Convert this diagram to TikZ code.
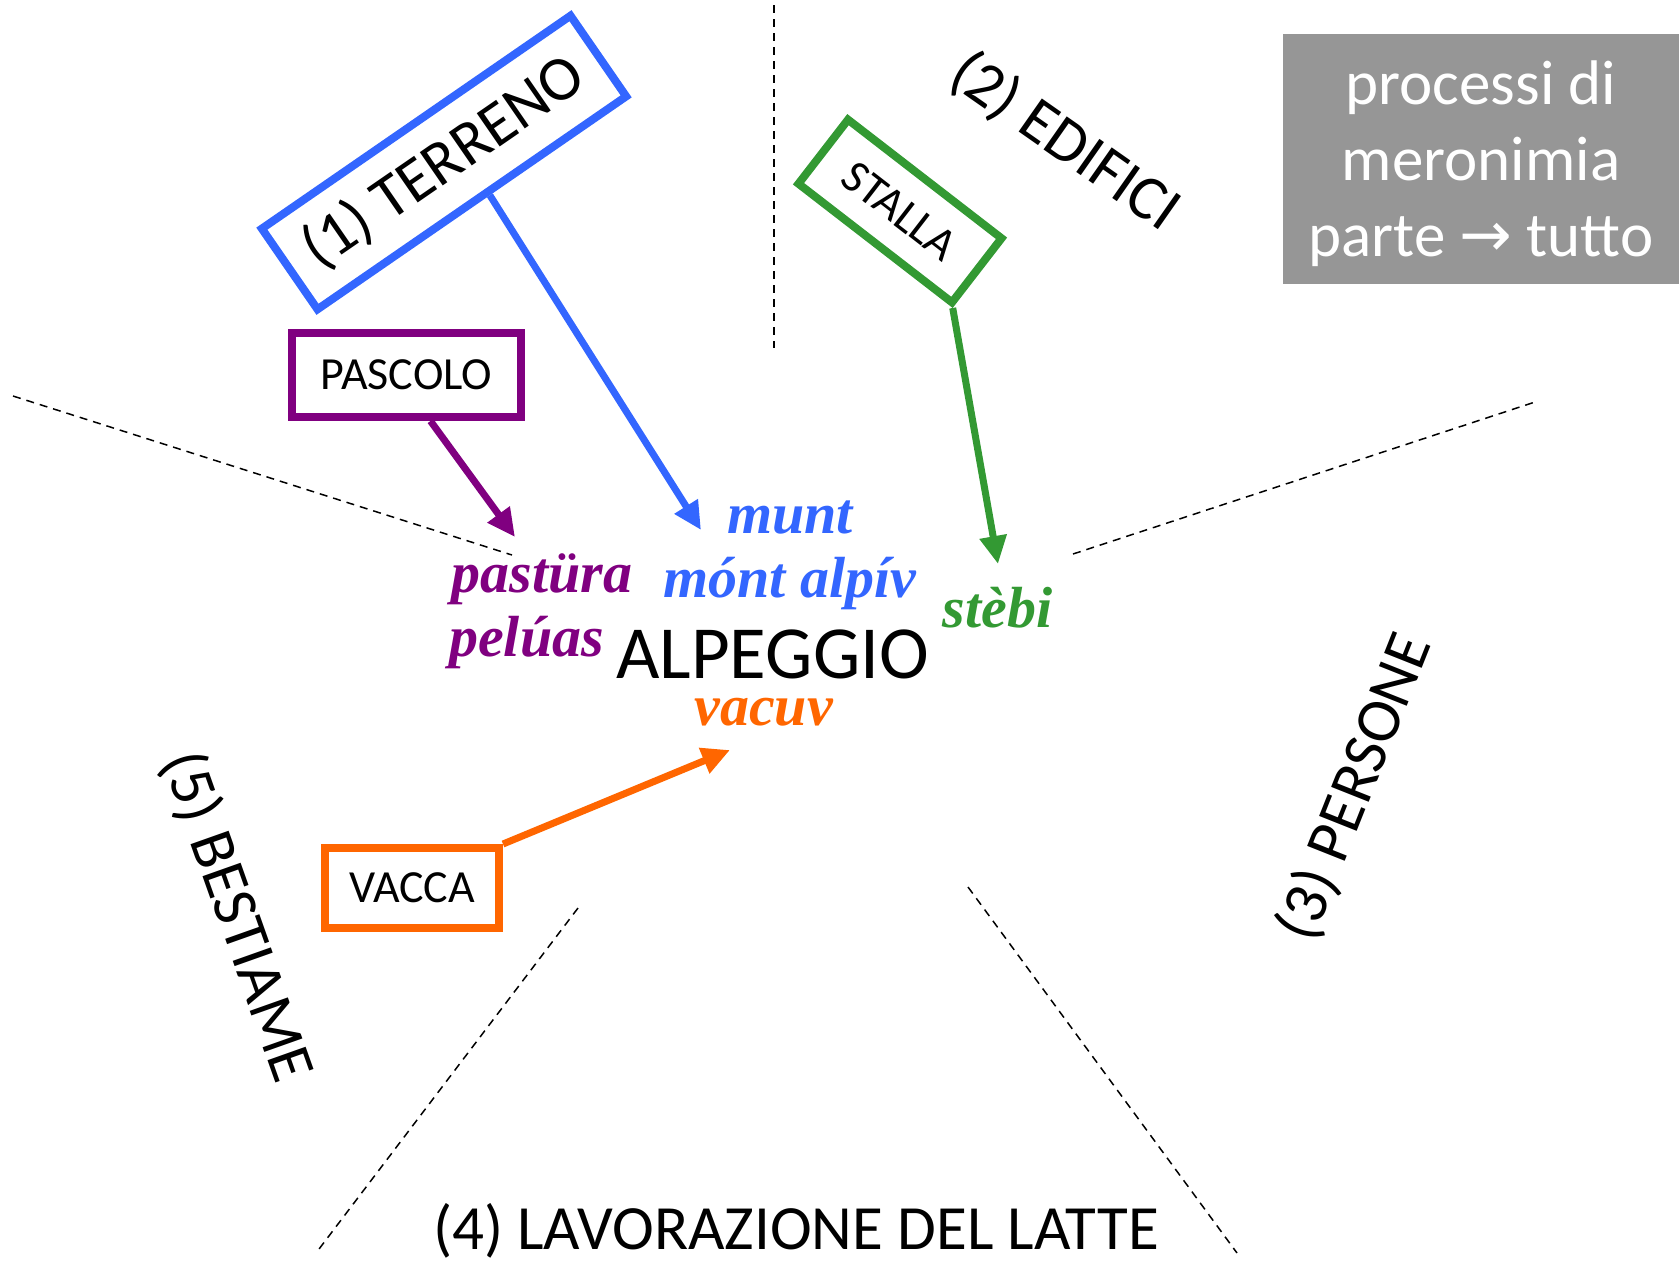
\documentclass[tikz,border=0pt]{standalone}
\usepackage{fontspec}
\setmainfont{Carlito}
\newfontfamily\wordfont{Liberation Serif}
\newfontfamily\symfont{DejaVu Sans}
\usetikzlibrary{arrows.meta,calc}
\definecolor{blueC}{RGB}{51,102,255}
\definecolor{purpleC}{RGB}{128,0,128}
\definecolor{greenC}{RGB}{51,153,51}
\definecolor{orangeC}{RGB}{255,102,0}
\definecolor{grayC}{RGB}{150,150,150}
\begin{document}
\begin{tikzpicture}[x=0.5pt,y=-0.5pt,
  sect/.style={font=\fontsize{31.5}{36}\selectfont, inner sep=0pt},
  tagbox/.style={draw, line width=4pt, inner sep=0pt, font=\fontsize{23}{26}\selectfont},
  word/.style={font={\wordfont\bfseries\itshape\fontsize{29}{32}\selectfont}, inner sep=0pt, anchor=base},
  conn/.style={line width=3.5pt, -{Triangle[length=14pt,width=13pt]}},
  sep/.style={line width=0.75pt, dash pattern=on 4pt off 3pt}
]
\useasboundingbox (0,0) rectangle (1679,1266);

% separators
\coordinate (s1a) at (774,5);    \coordinate (s1b) at (774,348);
\coordinate (s2a) at (13,396);   \coordinate (s2b) at (512,555);
\coordinate (s3a) at (1073,554); \coordinate (s3b) at (1535,402);
\coordinate (s4a) at (578,908);  \coordinate (s4b) at (316,1253);
\coordinate (s5a) at (968,887);  \coordinate (s5b) at (1237,1253);
\draw[sep] (s1a) -- (s1b);
\draw[sep] (s2a) -- (s2b);
\draw[sep] (s3a) -- (s3b);
\draw[sep] (s4a) -- (s4b);
\draw[sep] (s5a) -- (s5b);

% boxes
\node[tagbox, draw=blueC, rotate=34.6, minimum width=187.5pt, minimum height=49pt,
      font=\fontsize{31.5}{36}\selectfont] (terreno) at (444,162.5) {(1) TERRENO};
\node[tagbox, draw=purpleC, minimum width=114.5pt, minimum height=42pt] (pascolo) at (406.5,375) {PASCOLO};
\node[tagbox, draw=greenC, rotate=-37.7, minimum width=97pt, minimum height=40.5pt] (stalla) at (900,211) {STALLA};
\node[tagbox, draw=orangeC, minimum width=87pt, minimum height=40pt] (vacca) at (412,888) {VACCA};

\node[fill=grayC, minimum width=198pt, minimum height=125pt, inner sep=0pt] (note) at (1481,159) {};
\node[text=white, align=center, inner sep=0pt, font=\fontsize{31.5}{38}\selectfont]
      (notetext) at ([yshift=-2.2pt]note.center)
      {processi di\\meronimia\\parte {\symfont →} tutto};

% section labels
\node[sect, rotate=-35] (edifici) at (1065,142) {(2) EDIFICI};
\node[sect, rotate=68.3] (persone) at (1355,787) {(3) PERSONE};
\node[sect, rotate=-70.5] (bestiame) at (237,917) {(5) BESTIAME};
\node[sect, anchor=base] (latte) at (796,1249) {(4) LAVORAZIONE DEL LATTE};

% words
\node[font=\fontsize{37.5}{40}\selectfont, anchor=base, inner sep=0pt] (alp) at (772.5,678) {ALPEGGIO};
\node[word, text=blueC] (munt) at (790,533) {munt};
\node[word, text=blueC] (mont) at (790,597) {mónt alpív};
\node[word, text=purpleC] (pastura) at (542,592) {pastüra};
\node[word, text=purpleC] (peluas) at (526.5,656) {pelúas};
\node[word, text=greenC] (stebi) at (997.5,627) {stèbi};
\node[word, text=orangeC] (vacuv) at (763.5,725) {vacuv};

% arrow tips
\coordinate (tipT) at (701,530);
\coordinate (tipP) at (515,537);
\coordinate (tipS) at (998,564);
\coordinate (tipV) at (730,750);

\draw[conn, blueC] ($(terreno.south)!0.1!(terreno.south east)$) -- (tipT);
\draw[conn, purpleC] ([xshift=12pt]pascolo.south) -- (tipP);
\draw[conn, greenC] (stalla.south east) -- (tipS);
\draw[conn, orangeC] (vacca.north east) -- (tipV);
\end{tikzpicture}
\end{document}
